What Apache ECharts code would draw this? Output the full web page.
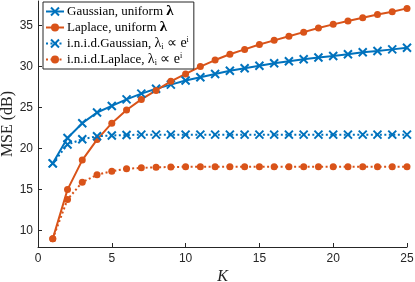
<!DOCTYPE html>
<html><head><meta charset="utf-8">
<script src="https://cdn.jsdelivr.net/npm/echarts@6/dist/echarts.min.js"></script>
<style>html,body{margin:0;padding:0;background:#fff}#c{width:415px;height:282px}</style>
</head><body><div id="c"></div>
<script>
const K = [1,2,3,4,5,6,7,8,9,10,11,12,13,14,15,16,17,18,19,20,21,22,23,24,25];
const gaussUniform = [18.2,21.3,23.1,24.4,25.2,26.0,26.7,27.3,27.8,28.3,28.7,29.1,29.5,29.8,30.1,30.4,30.65,30.9,31.1,31.3,31.5,31.75,31.9,32.1,32.3];
const laplaceUniform = [9.0,15.0,18.6,21.1,23.1,24.7,26.0,27.1,28.2,29.1,30.0,30.8,31.5,32.1,32.7,33.2,33.7,34.2,34.7,35.15,35.55,35.95,36.35,36.7,37.1];
const gaussInid = [18.2,20.5,21.15,21.5,21.6,21.65,21.7,21.7,21.7,21.7,21.7,21.7,21.7,21.7,21.7,21.7,21.7,21.7,21.7,21.7,21.7,21.7,21.7,21.7,21.7];
const laplaceInid = [9.0,13.8,15.9,16.8,17.25,17.55,17.65,17.72,17.76,17.78,17.8,17.8,17.8,17.8,17.8,17.8,17.8,17.8,17.8,17.8,17.8,17.8,17.8,17.8,17.8];
const xTicks = [0,5,10,15,20,25];
const yTicks = [10,15,20,25,30,35];
const seriesNames = ['Gaussian, uniform', 'Laplace, uniform', 'i.n.i.d.Gaussian', 'i.n.i.d.Laplace'];
const legendLabels = {
  'Gaussian, uniform': '{r|Gaussian, uniform }{b|λ}',
  'Laplace, uniform': '{r|Laplace, uniform }{b|λ}',
  'i.n.i.d.Gaussian': '{r|i.n.i.d.Gaussian, }{t|λ}{sub|i}{t| ∝ e}{sup|i}',
  'i.n.i.d.Laplace': '{r|i.n.i.d.Laplace, }{t|λ}{sub|i}{t| ∝ e}{sup|i}'
};
const BLUE = '#0072BD', ORANGE = '#D95319';
const XSYM = 'path://M0,0L10,10M10,0L0,10';
const serif = 'Liberation Serif';
function pair(arr){ return K.map((k,i)=>[k, arr[i]]); }
function mk(name, data, color, sym, dotted){
  const isX = sym === 'x';
  return {
    name, type:'line', data: pair(data),
    symbol: isX ? XSYM : 'circle',
    symbolSize: isX ? 8 : 7,
    symbolKeepAspect: true,
    lineStyle: {color, width: 2, type: dotted ? [2,2.5] : 'solid'},
    itemStyle: {color: isX ? 'rgba(0,0,0,0)' : color, borderColor: color, borderWidth: isX ? 2 : 0},
    emphasis: {disabled: true},
    animation: false, z: 2
  };
}
const chart = echarts.init(document.getElementById('c'), null, {renderer:'canvas'});
const axisCol = '#262626';
chart.setOption({
  animation: false,
  grid: {left: 38, right: 8, top: 1, bottom: 35, outerBoundsMode: 'none', containLabel: false},
  xAxis: {
    type:'value', min: 0, max: 25, interval: 5,
    axisLine: {lineStyle: {color: axisCol, width: 1}},
    axisTick: {inside: true, length: 4, lineStyle:{color: axisCol}},
    axisLabel: {color: axisCol, fontSize: 12, fontFamily: 'Liberation Sans', margin: 6},
    splitLine: {show: false},
    name: 'K', nameLocation: 'middle', nameGap: 22, nameMoveOverlap: false,
    nameTextStyle: {fontFamily: serif, fontStyle: 'italic', fontSize: 16, color: axisCol}
  },
  yAxis: {
    type:'value', min: 8, max: 38,
    axisLine: {show: true, lineStyle: {color: axisCol, width: 1}},
    axisTick: {show: true, inside: true, length: 4, customValues: yTicks, lineStyle:{color: axisCol}},
    axisLabel: {color: axisCol, fontSize: 12, fontFamily: 'Liberation Sans', margin: 5, customValues: yTicks},
    splitLine: {show: false},
    name: 'MSE (dB)', nameLocation: 'middle', nameGap: 22, nameRotate: 90, nameMoveOverlap: false,
    nameTextStyle: {fontFamily: serif, fontSize: 16, color: axisCol}
  },
  legend: {
    data: seriesNames, orient: 'vertical', left: 43, top: 2,
    backgroundColor: '#fff', borderColor: axisCol, borderWidth: 1, borderRadius: 0,
    padding: [2, 5, 2, 2], itemGap: 1, itemWidth: 18, itemHeight: 10,
    formatter: n => legendLabels[n],
    textStyle: {
      fontFamily: serif, fontSize: 13, color: '#000', lineHeight: 15, padding: [0,0,0,-2],
      rich: {
        r: {fontFamily: serif, fontSize: 13, color: '#000', lineHeight: 15},
        b: {fontFamily: serif, fontSize: 15, fontWeight: 'bold', color: '#000', lineHeight: 15},
        t: {fontFamily: serif, fontSize: 14, color: '#000', lineHeight: 15},
        sub: {fontFamily: serif, fontSize: 8, color: '#000', verticalAlign: 'bottom', lineHeight: 8},
        sup: {fontFamily: serif, fontSize: 8, color: '#000', verticalAlign: 'top', lineHeight: 8}
      }
    }
  },
  series: [
    mk(seriesNames[0], gaussUniform, BLUE, 'x', false),
    mk(seriesNames[1], laplaceUniform, ORANGE, 'o', false),
    mk(seriesNames[2], gaussInid, BLUE, 'x', true),
    mk(seriesNames[3], laplaceInid, ORANGE, 'o', true)
  ]
});
</script></body></html>
